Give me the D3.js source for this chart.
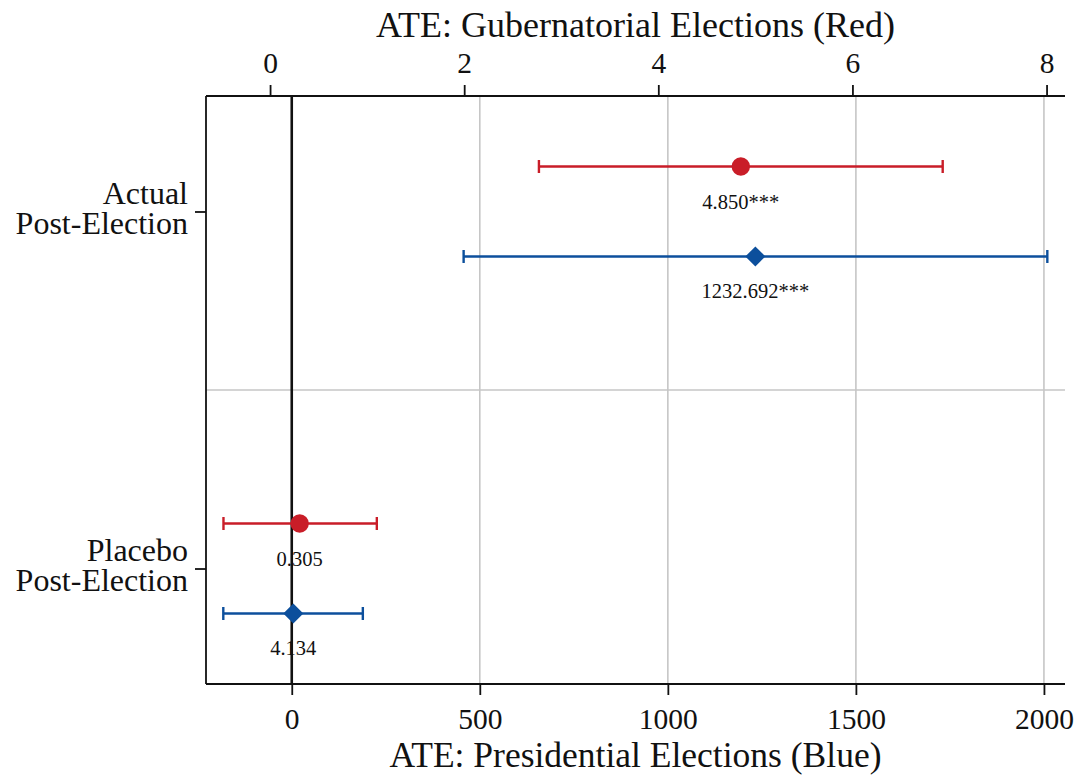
<!DOCTYPE html>
<html>
<head>
<meta charset="utf-8">
<script src="https://cdn.jsdelivr.net/npm/d3@7"></script>
<style>
  html, body { margin: 0; padding: 0; background: #fff; }
  svg text { font-family: "Liberation Serif", "Times New Roman", serif; fill: #111; }
</style>
</head>
<body>
<svg id="chart" width="1077" height="775"></svg>
<script>
// ---- Data ----
const categories = ["Actual|Post-Election", "Placebo|Post-Election"];
// Gubernatorial elections (red, top axis)
const redEst   = [4.850, 0.305];
const redLo    = [2.77, -0.48];
const redHi    = [6.93, 1.10];
const redLabel = ["4.850***", "0.305"];
// Presidential elections (blue, bottom axis)
const blueEst   = [1232.692, 4.134];
const blueLo    = [457, -182];
const blueHi    = [2009, 189];
const blueLabel = ["1232.692***", "4.134"];
// Tick values
const redTicks  = [0, 2, 4, 6, 8];
const blueTicks = [0, 500, 1000, 1500, 2000];

const topTitle = "ATE: Gubernatorial Elections (Red)";
const bottomTitle = "ATE: Presidential Elections (Blue)";

// ---- Layout ----
const L = 206, R = 1065, T = 96, B = 684;
const RED = "#c91d28", BLUE = "#0c4f9c";
const svg = d3.select("#chart");

const xB = d3.scaleLinear().domain([-228, 2056]).range([L, R]);
const xR = d3.scaleLinear().domain([-0.66, 8.19]).range([L, R]);
const y = d3.scalePoint().domain(categories).range([T, B]).padding(0.3235);
const step = y.step();
const off = 0.126 * step;

// gridlines (blue axis)
svg.append("g").selectAll("line").data(blueTicks.filter(d => d !== 0)).join("line")
  .attr("x1", d => xB(d)).attr("x2", d => xB(d))
  .attr("y1", T).attr("y2", B)
  .attr("stroke", "#c6c6c6").attr("stroke-width", 1.6);

// separator between categories
svg.append("line")
  .attr("x1", L).attr("x2", R)
  .attr("y1", (y(categories[0]) + y(categories[1])) / 2)
  .attr("y2", (y(categories[0]) + y(categories[1])) / 2)
  .attr("stroke", "#c6c6c6").attr("stroke-width", 1.4);

// zero line
svg.append("line")
  .attr("x1", xB(0)).attr("x2", xB(0)).attr("y1", T).attr("y2", B)
  .attr("stroke", "#111").attr("stroke-width", 2.6);

// axes
const axisStyle = g => {
  g.select(".domain").remove();
  g.selectAll(".tick line").attr("stroke", "#111").attr("stroke-width", 1.8);
  g.selectAll(".tick text").attr("font-family", "Liberation Serif").attr("fill", "#111");
};

const topAxis = svg.append("g").attr("transform", `translate(0,${T})`)
  .call(d3.axisTop(xR).tickValues(redTicks).tickFormat(d3.format("d")).tickSize(11).tickPadding(12))
  .call(axisStyle);
topAxis.selectAll(".tick text").attr("font-size", 29.5);

const botAxis = svg.append("g").attr("transform", `translate(0,${B})`)
  .call(d3.axisBottom(xB).tickValues(blueTicks).tickFormat(d3.format("d")).tickSize(11).tickPadding(13))
  .call(axisStyle);
botAxis.selectAll(".tick text").attr("font-size", 29.5);

const leftAxis = svg.append("g").attr("transform", `translate(${L},0)`)
  .call(d3.axisLeft(y).tickSize(11).tickFormat(""))
  .call(axisStyle);
leftAxis.selectAll(".tick").each(function(d) {
  const parts = d.split("|");
  const t = d3.select(this).append("text")
    .attr("x", -18).attr("text-anchor", "end")
    .attr("font-size", 32).attr("fill", "#111");
  t.append("tspan").attr("x", -18).attr("y", -8).text(parts[0]);
  t.append("tspan").attr("x", -18).attr("y", 22).text(parts[1]);
});

// frame lines: left, top, bottom
svg.append("line").attr("x1", L).attr("x2", R).attr("y1", T).attr("y2", T)
  .attr("stroke", "#111").attr("stroke-width", 1.8);
svg.append("line").attr("x1", L).attr("x2", R).attr("y1", B).attr("y2", B)
  .attr("stroke", "#111").attr("stroke-width", 1.8);
svg.append("line").attr("x1", L).attr("x2", L).attr("y1", T).attr("y2", B)
  .attr("stroke", "#111").attr("stroke-width", 1.8);

// titles
svg.append("text").attr("x", (L + R) / 2).attr("y", 37).attr("text-anchor", "middle")
  .attr("font-size", 36).text(topTitle);
svg.append("text").attr("x", (L + R) / 2).attr("y", 767).attr("text-anchor", "middle")
  .attr("font-size", 35.5).text(bottomTitle);

// series drawing
function drawSeries(x, est, lo, hi, labels, color, dy, shape) {
  const data = categories.map((c, i) => ({ c, est: est[i], lo: lo[i], hi: hi[i], label: labels[i] }));
  const g = svg.append("g");
  const cy = d => y(d.c) + dy;
  g.selectAll(".ci").data(data).join("line")
    .attr("x1", d => x(d.lo)).attr("x2", d => x(d.hi))
    .attr("y1", cy).attr("y2", cy)
    .attr("stroke", color).attr("stroke-width", 2.4);
  ["lo", "hi"].forEach(k => {
    g.selectAll(".cap-" + k).data(data).join("line")
      .attr("x1", d => x(d[k])).attr("x2", d => x(d[k]))
      .attr("y1", d => cy(d) - 6.5).attr("y2", d => cy(d) + 6.5)
      .attr("stroke", color).attr("stroke-width", 2.4);
  });
  if (shape === "circle") {
    g.selectAll("circle").data(data).join("circle")
      .attr("cx", d => x(d.est)).attr("cy", cy).attr("r", 9.2).attr("fill", color);
  } else {
    const sym = d3.symbol().type(d3.symbolSquare).size(200);
    g.selectAll("path.m").data(data).join("path")
      .attr("d", sym)
      .attr("transform", d => `translate(${x(d.est)},${cy(d)}) rotate(45)`)
      .attr("fill", color);
  }
  g.selectAll("text").data(data).join("text")
    .attr("x", d => x(d.est)).attr("y", d => cy(d) + 42)
    .attr("text-anchor", "middle").attr("font-size", 20.5)
    .text(d => d.label);
}

drawSeries(xR, redEst, redLo, redHi, redLabel, RED, -off, "circle");
drawSeries(xB, blueEst, blueLo, blueHi, blueLabel, BLUE, off, "diamond");
</script>
</body>
</html>
